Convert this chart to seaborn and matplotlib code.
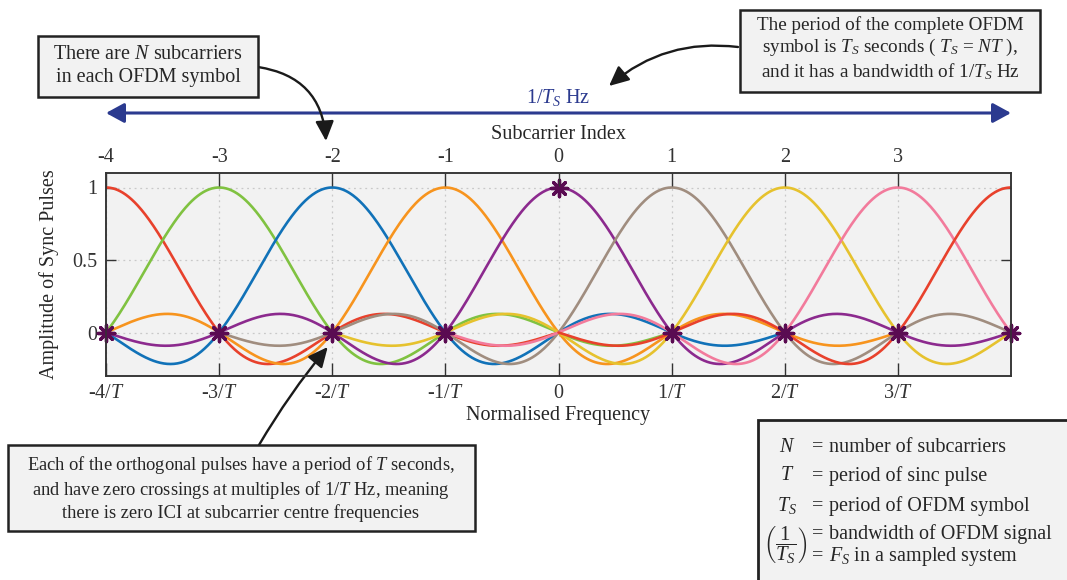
import numpy as np
import pandas as pd
import matplotlib
matplotlib.use("Agg")
import matplotlib.pyplot as plt
from matplotlib.patches import Rectangle
import seaborn as sns

# ---- data -----------------------------------------------------------------
# subcarrier centre frequencies (in units of 1/T) and the colour of each pulse
subcarriers = [-4, -3, -2, -1, 0, 1, 2, 3, 4]
pulse_colors = ["#e8412c", "#80c241", "#1172b8", "#f7941e", "#8c2a8e",
                "#a08d7f", "#e6c22e", "#f27b9c", "#e8412c"]
pulse_halfwidth = 4            # each sinc pulse is drawn over centre +/- 4/T
marked_pulse = 0               # pulse whose samples are marked
sample_points = [-4, -3, -2, -1, 0, 1, 2, 3, 4]

top_ticks = [-4, -3, -2, -1, 0, 1, 2, 3]
top_labels = ["-4", "-3", "-2", "-1", "0", "1", "2", "3"]
bottom_ticks = [-4, -3, -2, -1, 0, 1, 2, 3]
bottom_labels = [r"-4/$T$", r"-3/$T$", r"-2/$T$", r"-1/$T$", "0",
                 r"1/$T$", r"2/$T$", r"3/$T$"]
y_ticks = [0, 0.5, 1]
y_labels = ["0", "0.5", "1"]

# ---- style ----------------------------------------------------------------
W, H = 1067, 580
sns.set_theme(style="ticks")
plt.rcParams["font.family"] = ["Liberation Serif", "DejaVu Serif"]
plt.rcParams["mathtext.fontset"] = "custom"
plt.rcParams["mathtext.rm"] = "Liberation Serif"
plt.rcParams["mathtext.it"] = "Liberation Serif:italic"
plt.rcParams["mathtext.bf"] = "Liberation Serif:bold"
plt.rcParams["axes.unicode_minus"] = False
FS = 14.5
TXT = "#262626"

fig = plt.figure(figsize=(W / 100, H / 100), dpi=100)
ax = fig.add_axes([106 / W, 1 - 376 / H, (1011 - 106) / W, (376 - 173) / H])
ax.set_facecolor("#f2f2f2")

# ---- sinc pulses ----------------------------------------------------------
frames = []
for k in subcarriers:
    f = np.linspace(max(-4, k - pulse_halfwidth), min(4, k + pulse_halfwidth), 600)
    frames.append(pd.DataFrame({"freq": f, "amp": np.sinc(f - k),
                                "pulse": f"k{k}"}))
df = pd.concat(frames, ignore_index=True)
palette = {f"k{k}": c for k, c in zip(subcarriers, pulse_colors)}
sns.lineplot(data=df, x="freq", y="amp", hue="pulse", palette=palette,
             estimator=None, sort=False, legend=False, linewidth=1.9, ax=ax)

samples = np.array(sample_points, dtype=float)
sns.scatterplot(x=samples, y=np.sinc(samples - marked_pulse), marker=(8, 2, 0),
                s=140, color="#5a0b52", edgecolor="#5a0b52", linewidth=2.4,
                zorder=6, clip_on=False, ax=ax)

ax.set_xlim(-4, 4)
ax.set_ylim(-0.3, 1.1)
ax.set_xticks(bottom_ticks)
ax.set_xticklabels(bottom_labels)
ax.set_yticks(y_ticks)
ax.set_yticklabels(y_labels)
ax.grid(True, linestyle=(0, (1.5, 3)), color="#c9c9c9", linewidth=0.9)
ax.tick_params(axis="x", direction="in", length=9.5, width=1.0, pad=6,
               labelsize=FS, colors="#333333", top=False)
ax.tick_params(axis="y", direction="in", length=7, width=1.0, pad=6,
               labelsize=FS, colors="#333333", right=True)
for s in ax.spines.values():
    s.set_visible(True)
    s.set_color("#333333")
    s.set_linewidth(1.1)
ax.set_xlabel("Normalised Frequency", fontsize=FS, color=TXT, labelpad=2)
ax.set_ylabel("Amplitude of Sync Pulses", fontsize=FS, color=TXT, labelpad=10)

ax_top = ax.twiny()
ax_top.set_xlim(ax.get_xlim())
ax_top.set_xticks(top_ticks)
ax_top.set_xticklabels(top_labels)
ax_top.tick_params(axis="x", direction="in", length=9.5, width=1.0, pad=4,
                   labelsize=FS, colors="#333333")
ax_top.set_xlabel("Subcarrier Index", fontsize=FS, color=TXT, labelpad=7)
for s in ax_top.spines.values():
    s.set_color("#333333")
    s.set_linewidth(1.1)

# ---- bandwidth arrow ------------------------------------------------------
blue = "#2b3a8f"
y_bw = H - 113
ax.annotate("", xy=(4, y_bw), xytext=(-4, y_bw),
            xycoords=("data", "figure pixels"), textcoords=("data", "figure pixels"),
            arrowprops=dict(arrowstyle="<|-|>,head_length=0.55,head_width=0.3",
                            color=blue, lw=2.2, shrinkA=0, shrinkB=0,
                            mutation_scale=20), annotation_clip=False)
ax.annotate(r"1/$T_S$ Hz", xy=(0, H - 97), xycoords=("data", "figure pixels"),
            ha="center", va="center", fontsize=FS, color=blue,
            annotation_clip=False)


# ---- annotation boxes -----------------------------------------------------
def fig_xy(px, py):
    return px / W, 1 - py / H


def box(x0, y0, x1, y1, lw=1.8):
    r = Rectangle(fig_xy(x0, y1), (x1 - x0) / W, (y1 - y0) / H,
                  transform=fig.transFigure, facecolor="#f2f2f2",
                  edgecolor="#222222", linewidth=lw, zorder=3)
    fig.patches.append(r)


def note(px, py, s, size=FS, spacing=1.15, **kw):
    kw.setdefault("ha", "center")
    fig.text(*fig_xy(px, py), s, va="center", fontsize=size, color=TXT,
             linespacing=spacing, zorder=4, **kw)


box(38, 36, 258, 97)
note(148, 66, "There are $N$ subcarriers\nin each OFDM symbol", spacing=1.25)

box(740, 10, 1040, 92)
note(890, 49, "The period of the complete OFDM\n"
     r"symbol is $T_S$ seconds ( $T_S$ = $NT$ )," "\n"
     r"and it has a bandwidth of 1/$T_S$ Hz", size=13.8, spacing=1.22)

box(8, 445, 475, 531)
note(241, 488, "Each of the orthogonal pulses have a period of $T$ seconds,\n"
     r"and have zero crossings at multiples of 1/$T$ Hz, meaning" "\n"
     "there is zero ICI at subcarrier centre frequencies",
     size=13.3, spacing=1.2)

box(758, 420, 1075, 595, lw=2.0)
LFS = 14.5
rows = [(447, "$N$", "number of subcarriers"),
        (476, "$T$", "period of sinc pulse"),
        (506, "$T_S$", "period of OFDM symbol"),
        (534, None, "bandwidth of OFDM signal"),
        (556, None, "$F_S$ in a sampled system")]
for y, sym, desc in rows:
    if sym is not None:
        note(787, y, sym, size=LFS)
    note(818, y, "=", size=LFS)
    note(829, y, desc, size=LFS, ha="left")
note(785, 545, r"$\left(\dfrac{1}{T_S}\right)$", size=15)

# ---- pointer arrows -------------------------------------------------------
arrow_kw = dict(arrowstyle="-|>,head_length=0.6,head_width=0.28",
                color="#1a1a1a", lw=1.7, shrinkA=0, shrinkB=0,
                mutation_scale=20)
ax.annotate("", xy=(326, H - 141), xycoords="figure pixels",
            xytext=(258, H - 67), textcoords="figure pixels",
            arrowprops=dict(connectionstyle="arc3,rad=-0.4", **arrow_kw),
            annotation_clip=False)
ax.annotate("", xy=(609, H - 86), xycoords="figure pixels",
            xytext=(738, H - 47), textcoords="figure pixels",
            arrowprops=dict(connectionstyle="arc3,rad=0.22", **arrow_kw),
            annotation_clip=False)
ax.annotate("", xy=(-2.04, -0.1), xycoords="data",
            xytext=(259, H - 445), textcoords="figure pixels",
            arrowprops=dict(connectionstyle="arc3,rad=-0.04", **arrow_kw),
            annotation_clip=False)

fig.savefig("out.png", dpi=100)
